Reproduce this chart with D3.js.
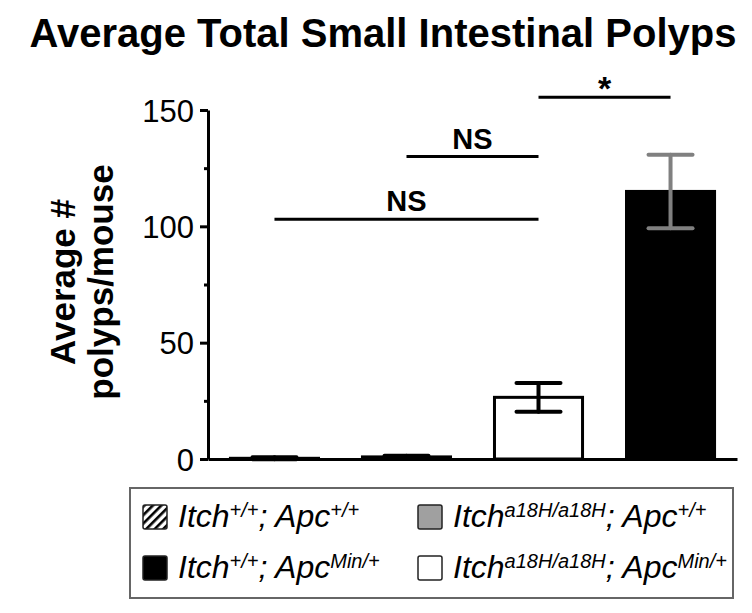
<!DOCTYPE html>
<html>
<head>
<meta charset="utf-8">
<script src="https://cdn.jsdelivr.net/npm/d3@7"></script>
<style>
  html, body { margin: 0; padding: 0; background: #fff; }
  svg { display: block; }
</style>
</head>
<body>
<svg id="chart" width="752" height="613"></svg>
<script>
// ---- data ----
const categories = ["Itch+/+;Apc+/+", "Itcha18H/a18H;Apc+/+", "Itcha18H/a18H;ApcMin/+", "Itch+/+;ApcMin/+"];
const means = [0.3, 0.9, 26.5, 115];
const errors = [0.4, 0.5, 6.2, 15.8];
const fills = ["hatch", "#a0a0a0", "#ffffff", "#000000"];
const errorColors = ["#000000", "#000000", "#000000", "#808080"];
const yTicks = [0, 50, 100, 150];
const yMinorTicks = [25, 75, 125];
const comparisons = [
  { from: 0, to: 2, level: 103, label: "NS" },
  { from: 1, to: 2, level: 130, label: "NS" },
  { from: 2, to: 3, level: 155.5, label: "*" }
];
const legendItems = [
  { fill: "hatch", gene: "Itch", geneSup: "+/+", apcSup: "+/+" },
  { fill: "#a0a0a0", gene: "Itch", geneSup: "a18H/a18H", apcSup: "+/+" },
  { fill: "#000000", gene: "Itch", geneSup: "+/+", apcSup: "Min/+" },
  { fill: "#ffffff", gene: "Itch", geneSup: "a18H/a18H", apcSup: "Min/+" }
];
const titleText = "Average Total Small Intestinal Polyps";
const yLabelLines = ["Average #", "polyps/mouse"];

// ---- layout ----
const svg = d3.select("#chart");
const font = "'Liberation Sans', Arial, Helvetica, sans-serif";
const plot = { left: 208, right: 737, top: 110, bottom: 459 };

const defs = svg.append("defs");
const pat = defs.append("pattern")
  .attr("id", "hatch").attr("patternUnits", "userSpaceOnUse")
  .attr("width", 6).attr("height", 6)
  .attr("patternTransform", "rotate(45)");
pat.append("rect").attr("width", 6).attr("height", 6).attr("fill", "#fff");
pat.append("rect").attr("x", 0).attr("width", 2.6).attr("height", 6).attr("fill", "#000");
const fillOf = f => f === "hatch" ? "url(#hatch)" : f;

const x = d3.scaleBand().domain(categories).range([plot.left, plot.right])
  .paddingInner(0.333).paddingOuter(0.17);
const y = d3.scaleLinear().domain([0, 150]).range([plot.bottom, plot.top]);

// title
svg.append("text")
  .attr("x", 383).attr("y", 47)
  .attr("text-anchor", "middle")
  .attr("font-family", font).attr("font-weight", "bold").attr("font-size", 40)
  .text(titleText);

// y label
const yl = svg.append("text")
  .attr("transform", `translate(75,282) rotate(-90)`)
  .attr("text-anchor", "middle")
  .attr("font-family", font).attr("font-weight", "bold").attr("font-size", 35);
yl.append("tspan").attr("x", 0).attr("y", 0).text(yLabelLines[0]);
yl.append("tspan").attr("x", 0).attr("y", 38).text(yLabelLines[1]);

// bars
const data = categories.map((c, i) => ({ c, m: means[i], e: errors[i], fill: fills[i], ec: errorColors[i] }));
svg.append("g").selectAll("rect").data(data).join("rect")
  .attr("x", d => x(d.c))
  .attr("width", x.bandwidth())
  .attr("y", d => y(d.m))
  .attr("height", d => y(0) - y(d.m))
  .attr("fill", d => fillOf(d.fill))
  .attr("stroke", "#000")
  .attr("stroke-width", 3);

// error bars
const capW = x.bandwidth() * 0.5;
const eg = svg.append("g").selectAll("g").data(data).join("g")
  .attr("stroke", d => d.ec).attr("stroke-width", 4).attr("stroke-linecap", "round");
eg.append("line")
  .attr("x1", d => x(d.c) + x.bandwidth() / 2).attr("x2", d => x(d.c) + x.bandwidth() / 2)
  .attr("y1", d => y(d.m - d.e)).attr("y2", d => y(d.m + d.e));
eg.append("line")
  .attr("x1", d => x(d.c) + x.bandwidth() / 2 - capW / 2).attr("x2", d => x(d.c) + x.bandwidth() / 2 + capW / 2)
  .attr("y1", d => y(d.m + d.e)).attr("y2", d => y(d.m + d.e));
eg.append("line")
  .attr("x1", d => x(d.c) + x.bandwidth() / 2 - capW / 2).attr("x2", d => x(d.c) + x.bandwidth() / 2 + capW / 2)
  .attr("y1", d => y(d.m - d.e)).attr("y2", d => y(d.m - d.e));

// axes
const yAxis = svg.append("g").attr("transform", `translate(${plot.left},0)`)
  .call(d3.axisLeft(y).tickValues(yTicks).tickSize(8).tickSizeOuter(0).tickPadding(6));
yAxis.selectAll("text").attr("font-family", font).attr("font-size", 31).attr("fill", "#000").attr("dy", "0.36em");
yAxis.selectAll("line").attr("stroke", "#000").attr("stroke-width", 3);
yAxis.select(".domain").attr("stroke", "#000").attr("stroke-width", 3);

const yMinor = svg.append("g").attr("transform", `translate(${plot.left},0)`)
  .call(d3.axisLeft(y).tickValues(yMinorTicks).tickSize(4).tickSizeOuter(0).tickFormat(""));
yMinor.select(".domain").remove();
yMinor.selectAll("line").attr("stroke", "#000").attr("stroke-width", 3);

const xAxis = svg.append("g").attr("transform", `translate(0,${plot.bottom})`)
  .call(d3.axisBottom(x).tickSize(0).tickSizeOuter(0).tickFormat(""));
xAxis.select(".domain").attr("stroke", "#000").attr("stroke-width", 3);

// significance
const cx = i => x(categories[i]) + x.bandwidth() / 2;
const sg = svg.append("g").selectAll("g").data(comparisons).join("g");
sg.append("line")
  .attr("x1", d => cx(d.from)).attr("x2", d => cx(d.to))
  .attr("y1", d => y(d.level)).attr("y2", d => y(d.level))
  .attr("stroke", "#000").attr("stroke-width", 3);
sg.append("text")
  .attr("x", d => (cx(d.from) + cx(d.to)) / 2)
  .attr("y", d => d.label === "*" ? y(d.level) + 3 : y(d.level) - 8)
  .attr("text-anchor", "middle")
  .attr("font-family", font).attr("font-weight", "bold")
  .attr("font-size", d => d.label === "*" ? 34 : 29)
  .text(d => d.label);

// legend
svg.append("rect")
  .attr("x", 130).attr("y", 488).attr("width", 603).attr("height", 110)
  .attr("fill", "#fff").attr("stroke", "#666").attr("stroke-width", 2);
const lg = svg.append("g").selectAll("g").data(legendItems).join("g")
  .attr("transform", (d, i) => `translate(${i % 2 === 0 ? 143 : 418},${i < 2 ? 505 : 556})`);
lg.append("rect").attr("width", 24).attr("height", 24).attr("rx", 2)
  .attr("fill", d => fillOf(d.fill)).attr("stroke", "#222").attr("stroke-width", 1.5);
const lt = lg.append("text")
  .attr("x", 35).attr("y", 22)
  .attr("font-family", font).attr("font-style", "italic").attr("font-size", 32);
lt.append("tspan").text(d => d.gene);
lt.append("tspan").attr("font-size", 20).attr("dy", -10).text(d => d.geneSup);
lt.append("tspan").attr("dy", 10).text("; Apc");
lt.append("tspan").attr("font-size", 20).attr("dy", -10).text(d => d.apcSup);
</script>
</body>
</html>
